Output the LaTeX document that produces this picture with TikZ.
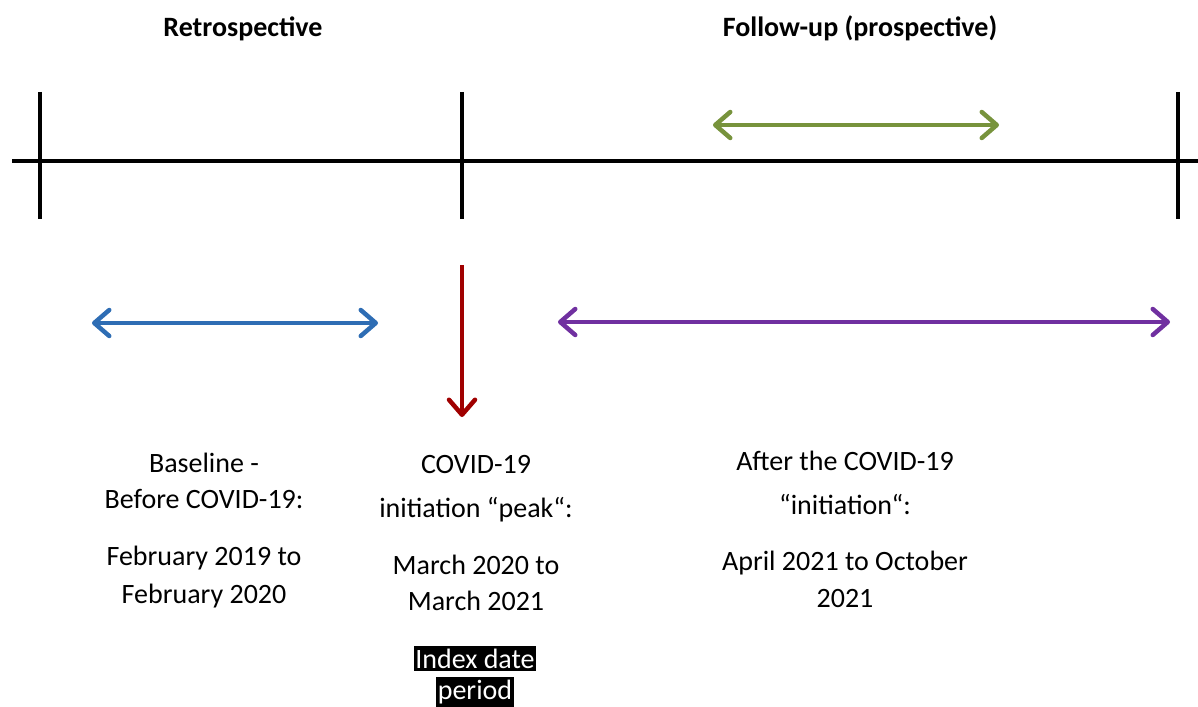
\documentclass[tikz,border=0pt]{standalone}
\usepackage{fontspec}
\setmainfont{Carlito}
\usetikzlibrary{arrows.meta}
\definecolor{cgreen}{HTML}{77933C}
\definecolor{cblue}{HTML}{2E6DB4}
\definecolor{cpurple}{HTML}{7030A0}
\definecolor{cred}{HTML}{A00000}
\begin{document}
\begin{tikzpicture}[x=1pt,y=-1pt,
  axis/.style={line width=4.5pt,black},
  dbl/.style={line width=4.5pt,{Straight Barb[length=15pt,width=26pt,round]}-{Straight Barb[length=15pt,width=26pt,round]}},
  down/.style={line width=4.5pt,-{Straight Barb[length=15pt,width=26pt,round]}},
  lbl/.style={font=\fontsize{28}{32}\selectfont,anchor=base,inner sep=0pt},
  head/.style={font=\fontsize{28}{32}\selectfont\bfseries,anchor=base,inner sep=0pt},
  blk/.style={lbl,fill=black,text=white,inner xsep=1.5pt,inner ysep=3pt}]
\useasboundingbox (0,0) rectangle (1198,706);
% timeline
\coordinate (tl) at (12,161);
\coordinate (tr) at (1198,161);
\draw[axis] (tl) -- (tr);
\coordinate (t1a) at (40,92); \coordinate (t1b) at (40,219);
\coordinate (t2a) at (462,92); \coordinate (t2b) at (462,219);
\coordinate (t3a) at (1178,92); \coordinate (t3b) at (1178,219);
\draw[axis] (t1a) -- (t1b);
\draw[axis] (t2a) -- (t2b);
\draw[axis] (t3a) -- (t3b);
% headings
\node[head] (retro) at (243,37) {Retrospective};
\node[head] (follow) at (860,37) {Follow-up (prospective)};
% arrows
\coordinate (ga) at (713,125); \coordinate (gb) at (999,125);
\draw[dbl,cgreen] (ga) -- (gb);
\coordinate (ba) at (92,323); \coordinate (bb) at (378,323);
\draw[dbl,cblue] (ba) -- (bb);
\coordinate (pa) at (558,322); \coordinate (pb) at (1170,322);
\draw[dbl,cpurple] (pa) -- (pb);
\coordinate (ra) at (462,265); \coordinate (rb) at (462,417);
\draw[down,cred] (ra) -- (rb);
% group 1
\node[lbl] (g1a) at (204,472) {Baseline -};
\node[lbl] (g1b) at (204,508) {Before COVID-19:};
\node[lbl] (g1c) at (204,565) {February 2019 to};
\node[lbl] (g1d) at (204,603) {February 2020};
% group 2
\node[lbl] (g2a) at (476,473) {COVID-19};
\node[lbl] (g2b) at (476,517) {initiation “peak“:};
\node[lbl] (g2c) at (476,574) {March 2020 to};
\node[lbl] (g2d) at (476,610) {March 2021};
% group 3
\node[lbl] (g3a) at (845,470) {After the COVID-19};
\node[lbl] (g3b) at (845,514) {“initiation“:};
\node[lbl] (g3c) at (845,570) {April 2021 to October};
\node[lbl] (g3d) at (845,607) {2021};
% index date
\node[blk] (ix1) at (475,668) {Index date};
\node[blk] (ix2) at (475,699) {period};
\end{tikzpicture}
\end{document}
